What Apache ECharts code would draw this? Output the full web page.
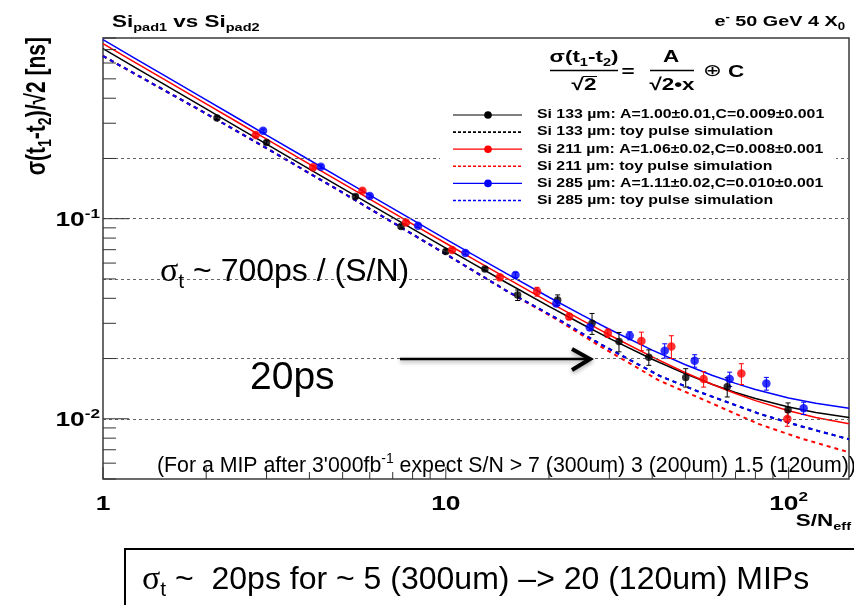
<!DOCTYPE html>
<html>
<head>
<meta charset="utf-8">
<script src="https://cdn.jsdelivr.net/npm/echarts@6/dist/echarts.min.js"></script>
<style>
  html, body { margin: 0; padding: 0; background: #fff; }
  #chart { width: 854px; height: 605px; }
</style>
</head>
<body>
<div id="chart"></div>
<script>
// Time resolution sigma(t1-t2)/sqrt2 versus effective S/N, three silicon pad thicknesses

// fit parameters: sigma = A/(sqrt2 * x) (+) C
const sensorNames = ['133', '211', '285'];
const fitA    = [1.00, 1.06, 1.11];
const fitAErr = [0.01, 0.02, 0.02];
const fitC    = [0.009, 0.008, 0.010];
const fitCErr = [0.001, 0.001, 0.001];

// measured points (S/N_eff, sigma in ns, error in ns)
const sn133    = [2.15, 3.0, 5.45, 7.4, 10.0, 13.0, 16.2, 21.2, 26.7, 32.0, 39.1, 50.1, 66.2, 99.6];
const sigma133 = [0.319, 0.240, 0.129, 0.0915, 0.0686, 0.0560, 0.0415, 0.0392, 0.0300, 0.0243, 0.0203, 0.0161, 0.01445, 0.0111];
const err133   = [0.006, 0.005, 0.0026, 0.0018, 0.0014, 0.0011, 0.0025, 0.0024, 0.0036, 0.0027, 0.0018, 0.0017, 0.0016, 0.0009];

const sn211    = [2.79, 4.10, 5.71, 7.65, 10.43, 14.37, 18.46, 22.9, 29.7, 37.2, 45.5, 56.5, 72.8, 99.1];
const sigma211 = [0.262, 0.1805, 0.138, 0.0958, 0.0697, 0.0509, 0.0432, 0.0324, 0.0268, 0.0245, 0.0230, 0.0158, 0.01684, 0.00997];
const err211   = [0.0052, 0.0036, 0.0028, 0.0019, 0.0014, 0.0010, 0.0022, 0.0010, 0.0013, 0.0026, 0.0030, 0.0014, 0.0020, 0.0008];

const sn285    = [2.93, 4.32, 6.00, 8.30, 11.41, 15.97, 21.0, 26.3, 34.4, 43.5, 53.2, 67.3, 86.1, 110.6];
const sigma285 = [0.275, 0.182, 0.130, 0.0923, 0.0674, 0.0523, 0.0377, 0.0286, 0.0260, 0.0219, 0.0195, 0.0158, 0.0150, 0.0113];
const err285   = [0.0055, 0.0036, 0.0026, 0.0018, 0.0013, 0.0016, 0.0011, 0.0009, 0.0012, 0.0018, 0.0014, 0.0013, 0.0011, 0.0008];

// toy pulse simulation curves
const simSN  = [1, 2, 3, 5, 10, 15, 21.5, 28, 42, 55, 82, 108, 150];
const sim133 = [0.65, 0.335, 0.225, 0.135, 0.0665, 0.0437, 0.0311, 0.0238, 0.0164, 0.0136, 0.0106, 0.0092, 0.0079];
const sim211 = [0.65, 0.335, 0.225, 0.135, 0.0665, 0.0437, 0.0307, 0.0232, 0.0155, 0.0127, 0.0094, 0.0080, 0.0068];
const sim285 = [0.65, 0.335, 0.225, 0.135, 0.0665, 0.0437, 0.0311, 0.0238, 0.0164, 0.0136, 0.0106, 0.0092, 0.0079];

// abscissas at which the fit function is evaluated
const fitSN = [1, 1.25, 1.5, 2, 2.5, 3, 4, 5, 6, 8, 10, 12, 15, 20, 25, 30, 40, 50, 60, 70, 80, 100, 120, 150];

// axes
const xMajorTicks  = [1, 10, 100];
const xMajorLabels = ['1', '10', '10{sup|2}'];
const xMinorTicks  = [2, 3, 4, 5, 6, 7, 8, 9, 20, 30, 40, 50, 60, 70, 80, 90];
const yMajorTicks  = [0.01, 0.1];
const yMajorLabels = ['10{sup|-2}', '10{sup|-1}'];
const yMinorTicks  = [0.005, 0.006, 0.007, 0.008, 0.009, 0.02, 0.03, 0.04, 0.05, 0.06, 0.07, 0.08, 0.09,
                      0.2, 0.3, 0.4, 0.5, 0.6, 0.7, 0.8];
const gridLevels   = [0.2, 0.1, 0.05, 0.02, 0.01];

const X_MIN = 1, X_MAX = 150, Y_MIN = 0.005, Y_MAX = 0.8;
const COLORS = ['#000000', '#ff0000', '#0000ff'];
const SX = 1.32;   // horizontal stretch of the plot lettering
const FONT = '"Liberation Sans", Arial, Helvetica, "DejaVu Sans", sans-serif';
const SERIF = '"Liberation Serif", "DejaVu Serif", serif';

function txt(x, y, text, size, opt) {
  opt = opt || {};
  const w = opt.weight || 'bold';
  const lh = Math.round(size * 1.3);
  const small = Math.round(size * 0.66);
  return {
    type: 'text', x: x, y: y, z: 60, silent: true,
    scaleX: opt.sx !== undefined ? opt.sx : SX,
    scaleY: opt.sy !== undefined ? opt.sy : 1,
    rotation: opt.rot || 0,
    style: {
      text: text, fontSize: size, fontWeight: w, fontFamily: FONT, fill: '#000',
      align: opt.align || 'left', verticalAlign: 'middle', lineHeight: lh,
      rich: {
        s:   { fontSize: small, fontWeight: w, fontFamily: FONT, lineHeight: small, verticalAlign: 'bottom' },
        sup: { fontSize: small, fontWeight: w, fontFamily: FONT, lineHeight: small, verticalAlign: 'top' },
        g:   { fontSize: Math.round(size * 1.05), fontWeight: 'normal', fontFamily: SERIF, lineHeight: lh },
        r:   { fontSize: size, fontWeight: 'normal', fontFamily: '"DejaVu Sans", sans-serif', lineHeight: lh }
      }
    }
  };
}

function fitCurve(A, C) {
  return fitSN.map(x => [x, Math.sqrt(Math.pow(A / (Math.SQRT2 * x), 2) + C * C)]);
}

const measured = [
  { sn: sn133, sig: sigma133, err: err133 },
  { sn: sn211, sig: sigma211, err: err211 },
  { sn: sn285, sig: sigma285, err: err285 }
];
const simulated = [sim133, sim211, sim285];

const series = [];

// dashed reference levels
series.push({
  type: 'line', data: [], silent: true, z: 1,
  markLine: {
    silent: true, symbol: 'none', animation: false, label: { show: false },
    lineStyle: { color: '#666', type: [3, 3], width: 1 },
    data: gridLevels.map(v => ({ yAxis: v }))
  }
});

// toy simulation curves
simulated.forEach((sim, i) => {
  series.push({
    type: 'line', name: 'sim' + sensorNames[i], z: 3, showSymbol: false, silent: true,
    data: simSN.map((x, k) => [x, sim[k]]),
    lineStyle: { color: COLORS[i], width: 2, type: [4, 4] }
  });
});

// fit curves
fitA.forEach((A, i) => {
  series.push({
    type: 'line', name: 'fit' + sensorNames[i], z: 4, showSymbol: false, silent: true,
    data: fitCurve(A, fitC[i]),
    lineStyle: { color: COLORS[i], width: 1.5 }
  });
});

// error bars and markers
measured.forEach((m, i) => {
  const color = COLORS[i];
  series.push({
    type: 'custom', z: 5, silent: true,
    data: m.sn.map((x, k) => [x, m.sig[k], m.err[k]]),
    encode: { x: 0, y: 1 },
    renderItem: (params, api) => {
      const x = api.value(0), y = api.value(1), e = api.value(2);
      const top = api.coord([x, y + e]);
      const bot = api.coord([x, y - e]);
      const st = { stroke: color, lineWidth: 1 };
      return {
        type: 'group', children: [
          { type: 'line', shape: { x1: top[0], y1: top[1], x2: bot[0], y2: bot[1] }, style: st },
          { type: 'line', shape: { x1: top[0] - 2.5, y1: top[1], x2: top[0] + 2.5, y2: top[1] }, style: st },
          { type: 'line', shape: { x1: bot[0] - 2.5, y1: bot[1], x2: bot[0] + 2.5, y2: bot[1] }, style: st }
        ]
      };
    }
  });
  series.push({
    type: 'scatter', z: 6, silent: true,
    symbol: 'circle', symbolSize: i === 0 ? 7.5 : 8.5,
    itemStyle: { color: color },
    data: m.sn.map((x, k) => [x, m.sig[k]])
  });
});

// axis ticks and labels
const xTickData = xMajorTicks.map((v, k) => [v, Y_MIN, k]).concat(xMinorTicks.map(v => [v, Y_MIN, -1]));
series.push({
  type: 'custom', z: 7, silent: true, data: xTickData, encode: { x: 0, y: 1 },
  renderItem: (params, api) => {
    const v = api.value(0), k = api.value(2);
    const p = api.coord([v, Y_MIN]);
    const len = (k >= 0 || v === 2 || v === 3 || v === 20 || v === 30) ? 12 : 7;
    const children = [{ type: 'line', shape: { x1: p[0], y1: p[1], x2: p[0], y2: p[1] - len },
                        style: { stroke: '#333', lineWidth: 1 } }];
    if (k >= 0) children.push(txt(p[0], p[1] + 25, xMajorLabels[k], 20, { align: 'center' }));
    return { type: 'group', children: children };
  }
});
const yTickData = yMajorTicks.map((v, k) => [X_MIN, v, k]).concat(yMinorTicks.map(v => [X_MIN, v, -1]));
series.push({
  type: 'custom', z: 7, silent: true, data: yTickData, encode: { x: 0, y: 1 },
  renderItem: (params, api) => {
    const v = api.value(1), k = api.value(2);
    const p = api.coord([X_MIN, v]);
    const len = k >= 0 ? 26 : 13;
    const children = [{ type: 'line', shape: { x1: p[0], y1: p[1], x2: p[0] + len, y2: p[1] },
                        style: { stroke: '#333', lineWidth: 1 } }];
    if (k >= 0) children.push(txt(p[0] - 3, p[1] + 2, yMajorLabels[k], 20, { align: 'right' }));
    return { type: 'group', children: children };
  }
});

// legend rows
const legendRows = [];
sensorNames.forEach((name, i) => {
  legendRows.push({ color: COLORS[i], dashed: false,
    text: 'Si ' + name + ' µm: A=' + fitA[i].toFixed(2) + '±' + fitAErr[i].toFixed(2) +
          ',C=' + fitC[i].toFixed(3) + '±' + fitCErr[i].toFixed(3) });
  legendRows.push({ color: COLORS[i], dashed: true, text: 'Si ' + name + ' µm: toy pulse simulation' });
});
const legendTop = 115, legendStep = 17.1;
const graphics = [
  { type: 'rect', z: 50, silent: true, shape: { x: 440, y: 96, width: 396, height: 116 }, style: { fill: '#fff' } }
];
legendRows.forEach((row, j) => {
  const y = legendTop + j * legendStep;
  graphics.push({ type: 'line', z: 55, silent: true, shape: { x1: 453, y1: y, x2: 522, y2: y },
    style: { stroke: row.color, lineWidth: row.dashed ? 1.6 : 1.2, lineDash: row.dashed ? [3, 2] : null } });
  if (!row.dashed) {
    graphics.push({ type: 'circle', z: 56, silent: true, shape: { cx: 488, cy: y, r: 3.8 }, style: { fill: row.color } });
  }
  graphics.push(txt(537, y, row.text, 12));
});

// formula
graphics.push(txt(584, 57, 'σ(t{s|1}-t{s|2})', 17, { align: 'center' }));
graphics.push({ type: 'line', z: 55, silent: true, shape: { x1: 550, y1: 70.5, x2: 618, y2: 70.5 }, style: { stroke: '#000', lineWidth: 1.5 } });
graphics.push(txt(584, 85, '√2', 17, { align: 'center' }));
graphics.push({ type: 'line', z: 55, silent: true, shape: { x1: 583, y1: 76.5, x2: 597, y2: 76.5 }, style: { stroke: '#000', lineWidth: 1 } });
graphics.push(txt(628, 72, '=', 17, { align: 'center' }));
graphics.push(txt(671, 57, 'A', 17, { align: 'center' }));
graphics.push({ type: 'line', z: 55, silent: true, shape: { x1: 650, y1: 70.5, x2: 694, y2: 70.5 }, style: { stroke: '#000', lineWidth: 1.5 } });
graphics.push(txt(672, 85, '√2•x', 17, { align: 'center' }));
graphics.push(txt(703, 72, '{r|⊕} C', 17));

// titles
graphics.push(txt(112, 22, 'Si{s|pad1} vs Si{s|pad2}', 17));
graphics.push(txt(845, 22, 'e{sup|-} 50 GeV 4 X{s|0}', 15, { align: 'right' }));
graphics.push(txt(37, 37, 'σ(t{s|1}-t{s|2})/√2 [ns]', 21, { align: 'right', rot: Math.PI / 2, sx: 1, sy: SX }));
graphics.push(txt(851, 521, 'S/N{s|eff}', 17, { align: 'right' }));

// notes on the plot
graphics.push(txt(157, 466, '(For a MIP after 3\'000fb{sup|-1} expect S/N > 7 (300um) 3 (200um) 1.5 (120um))', 21.3, { weight: 'normal', sx: 1 }));
graphics.push(txt(160, 272, '{g|σ}{s|t} ~ 700ps / (S/N)', 32, { weight: 'normal', sx: 1 }));
graphics.push(txt(250, 378, '20ps', 39, { weight: 'normal', sx: 1 }));
graphics.push({ type: 'polyline', z: 58, silent: true, shape: { points: [[400, 359], [588, 359]] },
  style: { stroke: '#000', lineWidth: 2.5, fill: null, shadowBlur: 4, shadowColor: 'rgba(0,0,0,0.35)', shadowOffsetY: 2 } });
graphics.push({ type: 'polyline', z: 58, silent: true, shape: { points: [[572, 349], [590, 359], [572, 370]] },
  style: { stroke: '#000', lineWidth: 4, fill: null, lineJoin: 'miter', shadowBlur: 4, shadowColor: 'rgba(0,0,0,0.35)', shadowOffsetY: 2 } });

// summary box
graphics.push({ type: 'rect', z: 58, silent: true, shape: { x: 125, y: 549, width: 760, height: 90 },
  style: { fill: null, stroke: '#000', lineWidth: 2 } });
graphics.push(txt(142, 580, '{g|σ}{s|t} ~  20ps for ~ 5 (300um) –> 20 (120um) MIPs', 32, { weight: 'normal', sx: 1 }));

const chart = echarts.init(document.getElementById('chart'), null, { renderer: 'canvas' });
chart.setOption({
  animation: false,
  backgroundColor: '#fff',
  grid: { left: 103, right: 5, top: 38, bottom: 126, show: true, borderColor: '#3a3a3a', borderWidth: 1.5, backgroundColor: 'transparent' },
  xAxis: { type: 'log', logBase: 10, min: X_MIN, max: X_MAX,
    axisLine: { show: false }, axisTick: { show: false }, axisLabel: { show: false }, splitLine: { show: false } },
  yAxis: { type: 'log', logBase: 10, min: Y_MIN, max: Y_MAX,
    axisLine: { show: false }, axisTick: { show: false }, axisLabel: { show: false }, splitLine: { show: false } },
  series: series,
  graphic: { elements: graphics }
});
</script>
</body>
</html>
